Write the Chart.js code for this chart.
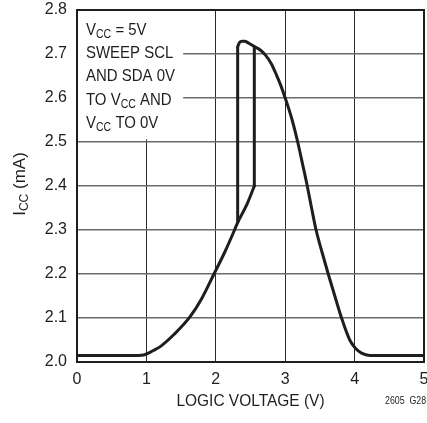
<!DOCTYPE html>
<html><head><meta charset="utf-8">
<style>html,body{margin:0;padding:0;background:#fff;}</style>
<script src="https://cdn.jsdelivr.net/npm/chart.js@4.4.0/dist/chart.umd.min.js"></script>
</head><body>
<canvas id="c" width="427" height="423"></canvas>
<script>
// ---- data ----
const xTicks = [0, 1, 2, 3, 4, 5];
const yTicks = [2.0, 2.1, 2.2, 2.3, 2.4, 2.5, 2.6, 2.7, 2.8];
// sweep up (0V -> VCC), lower branch
const riseX = [0, 0.5, 0.88, 0.96, 1.03, 1.1, 1.2, 1.4, 1.63, 1.8, 1.974, 2.13, 2.27, 2.315, 2.445, 2.555];
const riseY = [2.015, 2.015, 2.015, 2.016, 2.02, 2.026, 2.035, 2.063, 2.103, 2.145, 2.2, 2.25, 2.3, 2.317, 2.357, 2.4];
// jump up at the upper switching point
const jumpUpX = [2.555, 2.555];
const jumpUpY = [2.4, 2.717];
// jump down at the lower switching point
const jumpDownX = [2.315, 2.315];
const jumpDownY = [2.317, 2.716];
// upper branch and falling part
const fallX = [2.315, 2.34, 2.38, 2.416, 2.47, 2.555, 2.64, 2.713, 2.8, 2.875, 2.94, 3.0, 3.1, 3.18, 3.25, 3.318, 3.38, 3.445, 3.53, 3.62, 3.715, 3.812, 3.93, 4.02, 4.1, 4.22, 4.6, 5.0];
const fallY = [2.716, 2.726, 2.729, 2.729, 2.725, 2.717, 2.709, 2.698, 2.678, 2.652, 2.627, 2.6, 2.55, 2.5, 2.45, 2.4, 2.35, 2.3, 2.25, 2.2, 2.15, 2.1, 2.05, 2.03, 2.02, 2.015, 2.015, 2.015];
// texts
const noteLines = [
  [["V", 0], ["CC", 1], [" = 5V", 0]],
  [["SWEEP SCL", 0]],
  [["AND SDA 0V", 0]],
  [["TO V", 0], ["CC", 1], [" AND", 0]],
  [["V", 0], ["CC", 1], [" TO 0V", 0]]
];
const yTitle = [["I", 0], ["CC", 1], [" (mA)", 0]];
const xTitle = "LOGIC VOLTAGE (V)";
const figCode = "2605  G28";

const FONT = "'Liberation Sans', Arial, sans-serif";
const INK = '#1e1e1e';

function pts(xs, ys) { return xs.map((x, i) => ({ x: x, y: ys[i] })); }
function ds(xs, ys, smooth) {
  return { data: pts(xs, ys), showLine: true, borderColor: INK, borderWidth: 3,
    pointRadius: 0, cubicInterpolationMode: smooth ? 'monotone' : 'default', tension: 0,
    borderCapStyle: 'round', borderJoinStyle: 'round', fill: false };
}

// draws text segments (with subscripts) horizontally compressed by sx
function drawSegs(ctx, segs, x, y, size, subSize, sx) {
  ctx.save();
  ctx.translate(x, y);
  ctx.scale(sx, 1);
  let cx = 0;
  for (const [t, sub] of segs) {
    ctx.font = (sub ? subSize : size) + 'px ' + FONT;
    ctx.fillText(t, cx, sub ? 3 : 0);
    cx += ctx.measureText(t).width;
  }
  ctx.restore();
}
function segsWidth(ctx, segs, size, subSize, sx) {
  let w = 0;
  for (const [t, sub] of segs) { ctx.font = (sub ? subSize : size) + 'px ' + FONT; w += ctx.measureText(t).width; }
  return w * sx;
}

const decor = {
  id: 'decor',
  beforeDatasetsDraw(chart) {
    const { ctx, chartArea: a, scales: { x, y } } = chart;
    ctx.save();
    ctx.fillStyle = '#fff';
    const r = x.getPixelForValue(1.53), b = y.getPixelForValue(2.506);
    ctx.fillRect(a.left, a.top, r - a.left, b - a.top);
    ctx.fillStyle = INK;
    ctx.textBaseline = 'alphabetic';
    ctx.textAlign = 'left';
    noteLines.forEach((segs, i) => drawSegs(ctx, segs, a.left + 9, a.top + 25 + i * 23.2, 17, 12, 0.88));
    ctx.restore();
  },
  afterDraw(chart) {
    const { ctx, chartArea: a } = chart;
    ctx.save();
    ctx.strokeStyle = INK; ctx.lineWidth = 2;
    ctx.strokeRect(a.left, a.top, a.right - a.left, a.bottom - a.top);
    ctx.fillStyle = INK;
    ctx.textBaseline = 'alphabetic';
    ctx.textAlign = 'left';
    // x title
    const xs = [[xTitle, 0]];
    const xw = segsWidth(ctx, xs, 17, 12, 0.91);
    drawSegs(ctx, xs, (a.left + a.right) / 2 - xw / 2, 405.5, 17, 12, 0.91);
    // figure code
    drawSegs(ctx, [[figCode, 0]], 385, 404, 10, 10, 0.88);
    // y title
    ctx.translate(25, (a.top + a.bottom) / 2 - 2);
    ctx.rotate(-Math.PI / 2);
    const w = segsWidth(ctx, yTitle, 17, 12, 1.0);
    drawSegs(ctx, yTitle, -w / 2, 0, 17, 12, 1.0);
    ctx.restore();
  }
};

new Chart(document.getElementById('c'), {
  type: 'scatter',
  data: { datasets: [
    ds(riseX, riseY, true),
    ds(jumpUpX, jumpUpY, false),
    ds(jumpDownX, jumpDownY, false),
    ds(fallX, fallY, true)
  ] },
  options: {
    responsive: false, animation: false, devicePixelRatio: 1,
    layout: { padding: { top: 10, right: 3, left: 0, bottom: 0 } },
    plugins: { legend: { display: false }, tooltip: { enabled: false } },
    scales: {
      x: {
        type: 'linear', min: 0, max: 5,
        afterBuildTicks: s => { s.ticks = xTicks.map(v => ({ value: v })); },
        afterFit: s => { s.height = 61; s.paddingLeft = 0; s.paddingRight = 0; },
        ticks: { padding: 8, color: INK, font: { family: FONT, size: 16 }, callback: v => String(v) },
        grid: { color: '#2a2a2a', lineWidth: 1, drawTicks: false },
        border: { display: false }
      },
      y: {
        type: 'linear', min: 2.0, max: 2.8,
        afterBuildTicks: s => { s.ticks = yTicks.map(v => ({ value: v })); },
        afterFit: s => { s.width = 77; s.paddingTop = 0; s.paddingBottom = 0; },
        ticks: { padding: 10, color: INK, font: { family: FONT, size: 16 }, callback: v => Number(v).toFixed(1) },
        grid: { color: '#6a6a6a', lineWidth: 1.5, drawTicks: false },
        border: { display: false }
      }
    }
  },
  plugins: [decor]
});
</script>
</body></html>
